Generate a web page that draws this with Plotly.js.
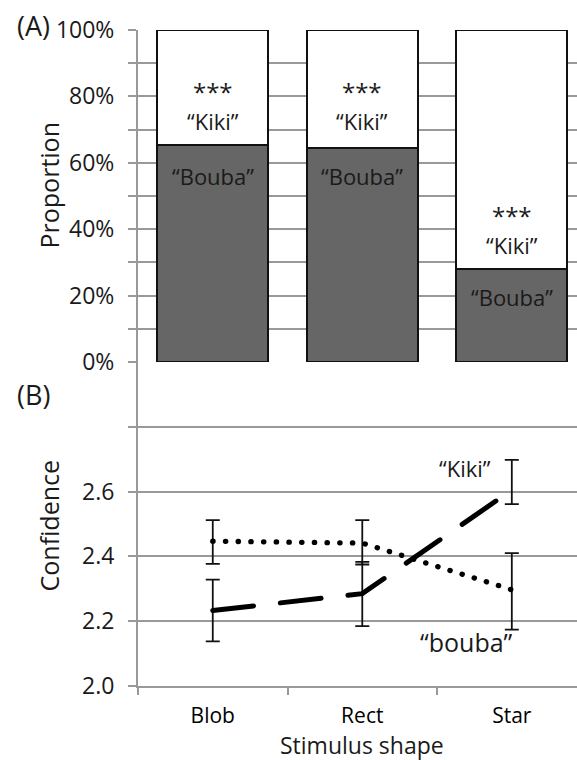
<!DOCTYPE html>
<html>
<head>
<meta charset="utf-8">
<script src="https://cdn.plot.ly/plotly-3.0.1.min.js"></script>
<style>html,body{margin:0;padding:0;background:#fff;}#chart{width:577px;height:760px;}</style>
</head>
<body>
<div id="chart"></div>
<script>
// ---- data ----
const categories = ['Blob', 'Rect', 'Star'];
const boubaProportion = [0.654, 0.645, 0.279];
const kikiProportion = [0.346, 0.355, 0.721];
const pctTickVals = [0, 0.1, 0.2, 0.3, 0.4, 0.5, 0.6, 0.7, 0.8, 0.9, 1.0];
const pctTickText = ['0%', '', '20%', '', '40%', '', '60%', '', '80%', '', '100%'];
const significance = ['***', '***', '***'];
const kikiLabelY = [0.772, 0.772, 0.40];
const boubaLabelY = [0.56, 0.56, 0.195];

const boubaConfidence = [2.447, 2.441, 2.297];
const boubaErrPlus = [0.065, 0.071, 0.113];
const boubaErrMinus = [0.070, 0.066, 0.123];
const kikiConfidence = [2.233, 2.285, 2.605];
const kikiErrPlus = [0.095, 0.098, 0.093];
const kikiErrMinus = [0.095, 0.100, 0.044];
const confTickVals = [2.0, 2.2, 2.4, 2.6, 2.8, 3.0];
const confTickText = ['2.0', '2.2', '2.4', '2.6', '', ''];

// ---- style ----
const FONT = '"Open Sans", Lato, sans-serif';
const GRID = '#999999';
const TXT = '#1a1a1a';

const traces = [
  {type: 'bar', x: categories, y: boubaProportion, xaxis: 'x', yaxis: 'y', width: 0.74,
   marker: {color: '#666666', line: {color: '#111', width: 2}}, hoverinfo: 'skip'},
  {type: 'bar', x: categories, y: kikiProportion, xaxis: 'x', yaxis: 'y', width: 0.74,
   marker: {color: '#ffffff', line: {color: '#111', width: 2}}, hoverinfo: 'skip'},
  {type: 'scatter', mode: 'lines', x: categories, y: boubaConfidence, xaxis: 'x2', yaxis: 'y2',
   line: {color: '#000', width: 5.3, dash: '0.3px,12.4px'},
   error_y: {type: 'data', symmetric: false, array: boubaErrPlus, arrayminus: boubaErrMinus,
             color: '#111', thickness: 1.8, width: 7}},
  {type: 'scatter', mode: 'lines', x: categories, y: kikiConfidence, xaxis: 'x2', yaxis: 'y2',
   line: {color: '#000', width: 5, dash: '41px,27px'},
   error_y: {type: 'data', symmetric: false, array: kikiErrPlus, arrayminus: kikiErrMinus,
             color: '#111', thickness: 1.8, width: 7}}
];

const annotations = [];
const C = {xanchor: 'center', yanchor: 'middle', showarrow: false};
categories.forEach((c, i) => {
  annotations.push(Object.assign({xref: 'x', yref: 'y', x: i, y: kikiLabelY[i],
                    text: '<span style="font-size:24px">' + significance[i] + '</span><br>\u201CKiki\u201D',
                    font: {family: FONT, size: 22, color: TXT}}, C));
  annotations.push(Object.assign({xref: 'x', yref: 'y', x: i, y: boubaLabelY[i], text: '\u201CBouba\u201D',
                    font: {family: FONT, size: 22, color: TXT}}, C));
});
annotations.push(Object.assign({xref: 'x2', yref: 'y2', x: 1.69, y: 2.674, text: '\u201CKiki\u201D',
                  font: {family: FONT, size: 22, color: TXT}}, C));
annotations.push(Object.assign({xref: 'x2', yref: 'y2', x: 1.70, y: 2.136, text: '\u201Cbouba\u201D',
                  font: {family: FONT, size: 25, color: TXT}}, C));
// panel letters and axis titles
annotations.push(Object.assign({xref: 'paper', yref: 'paper', x: 0, xshift: -105, y: 1.0076, text: '(A)',
                  font: {family: FONT, size: 27, color: TXT}}, C));
annotations.push(Object.assign({xref: 'paper', yref: 'paper', x: 0, xshift: -105, y: 0.4436, text: '(B)',
                  font: {family: FONT, size: 27, color: TXT}}, C));
annotations.push(Object.assign({xref: 'paper', yref: 'paper', x: 0, xshift: -89, y: 0.763, text: 'Proportion', textangle: -90,
                  font: {family: FONT, size: 25, color: TXT}}, C));
annotations.push(Object.assign({xref: 'paper', yref: 'paper', x: 0, xshift: -89, y: 0.2447, text: 'Confidence', textangle: -90,
                  font: {family: FONT, size: 25, color: TXT}}, C));
annotations.push(Object.assign({xref: 'paper', yref: 'paper', x: 0.51, y: -0.0895, text: 'Stimulus shape',
                  font: {family: FONT, size: 23, color: TXT}}, C));

const yCommon = {ticks: 'outside', ticklen: 8, tickcolor: GRID, tickwidth: 2,
                 showgrid: true, gridcolor: GRID, gridwidth: 2,
                 showline: true, linecolor: GRID, linewidth: 2, zeroline: false,
                 tickfont: {family: FONT, size: 23, color: TXT}, ticklabelstandoff: 9, fixedrange: true};

const layout = {
  width: 577, height: 760,
  margin: {l: 138, r: 0, t: 30, b: 74},
  paper_bgcolor: '#fff', plot_bgcolor: '#fff',
  showlegend: false, barmode: 'stack',
  font: {family: FONT, color: TXT},
  xaxis: {type: 'category', anchor: 'y', domain: [0, 1], range: [-0.5, 2.436],
          showticklabels: false, ticks: '', showgrid: false, zeroline: false, showline: false, fixedrange: true},
  yaxis: Object.assign({}, yCommon, {domain: [0.494, 1], range: [0, 1], tickvals: pctTickVals, ticktext: pctTickText}),
  xaxis2: {type: 'category', anchor: 'y2', domain: [0, 1], range: [-0.5, 2.436],
           tickson: 'boundaries', ticks: 'outside', ticklen: 7, tickcolor: GRID, tickwidth: 2,
           showgrid: false, zeroline: false, showline: true, linecolor: GRID, linewidth: 2,
           tickfont: {family: FONT, size: 21, color: '#000'}, ticklabelstandoff: 10, fixedrange: true},
  yaxis2: Object.assign({}, yCommon, {domain: [0, 0.494], range: [2.0, 3.0], tickvals: confTickVals, ticktext: confTickText}),
  annotations: annotations
};

Plotly.newPlot('chart', traces, layout, {displayModeBar: false, staticPlot: true}).then(() => {
  document.querySelectorAll('.scatterlayer .js-line').forEach(p => {
    p.style.strokeLinecap = 'round';
  });
});
</script>
</body>
</html>
